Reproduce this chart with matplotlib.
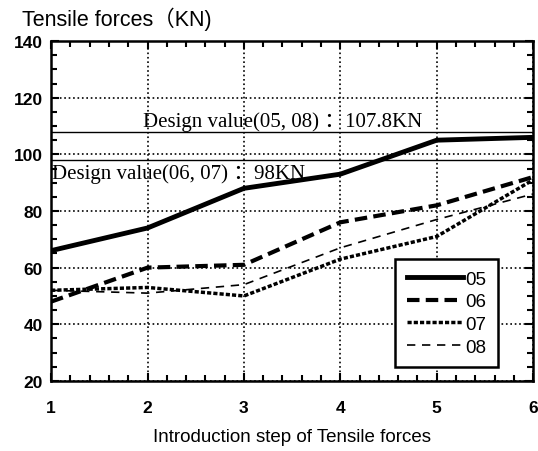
import matplotlib.pyplot as plt
from matplotlib.ticker import MultipleLocator

steps = [1, 2, 3, 4, 5, 6]
s05 = [66, 74, 88, 93, 105, 106]
s06 = [48, 60, 61, 76, 82, 92]
s07 = [52, 53, 50, 63, 71, 91]
s08 = [52, 51, 54, 67, 77, 86]
design_0508 = 107.8
design_0607 = 98

plt.rcParams['font.family'] = ['Liberation Sans', 'DejaVu Sans']

fig = plt.figure(figsize=(5.38, 4.52), dpi=100)
ax = fig.add_axes([0.095, 0.155, 0.896, 0.752])

ax.axhline(design_0508, color='black', lw=1.0)
ax.axhline(design_0607, color='black', lw=1.0)

ax.plot(steps, s05, color='black', lw=3.5, ls='-', label='05')
ax.plot(steps, s06, color='black', lw=3, ls=(0, (3, 1.5)), label='06')
ax.plot(steps, s07, color='black', lw=2.5, ls=(0, (1.2, 0.6)), label='07')
ax.plot(steps, s08, color='black', lw=1.2, ls=(0, (5, 4)), label='08')

serif = ['Liberation Serif', 'Noto Sans CJK SC']
ax.text(1.95, design_0508 + 0.6, 'Design value(05, 08) ：107.8KN',
        family=serif, fontsize=15, va='bottom')
ax.text(1.005, design_0607 - 1.0, 'Design value(06, 07) ：98KN',
        family=serif, fontsize=15, va='top')

ax.set_xlim(1, 6)
ax.set_ylim(20, 140)
ax.xaxis.set_major_locator(MultipleLocator(1))
ax.xaxis.set_minor_locator(MultipleLocator(0.2))
ax.yaxis.set_major_locator(MultipleLocator(20))
ax.yaxis.set_minor_locator(MultipleLocator(5))
ax.tick_params(which='both', direction='in', top=True, right=True, width=1.5)
ax.tick_params(which='major', length=6, pad=14, labelsize=12.5)
ax.tick_params(which='minor', length=4)
ax.tick_params(axis='y', pad=6)
for lab in ax.get_xticklabels() + ax.get_yticklabels():
    lab.set_fontweight('bold')
for sp in ax.spines.values():
    sp.set_linewidth(1.8)

ax.grid(True, which='major', color='black', ls=':', lw=1.2)

ax.set_xlabel('Introduction step of Tensile forces', fontsize=13.5, labelpad=9)
fig.text(0.04, 0.943, 'Tensile forces（KN)', fontsize=15.5,
         family=['Liberation Sans', 'Noto Sans CJK SC'])

leg = ax.legend(loc='lower right', bbox_to_anchor=(0.927, 0.041), fontsize=13.5,
                frameon=True, fancybox=False, edgecolor='black',
                handlelength=3.0, handletextpad=0.15, labelspacing=0.3,
                borderpad=0.6, borderaxespad=0, framealpha=1)
leg.get_frame().set_linewidth(1.8)

fig.savefig('out.png', dpi=100)
